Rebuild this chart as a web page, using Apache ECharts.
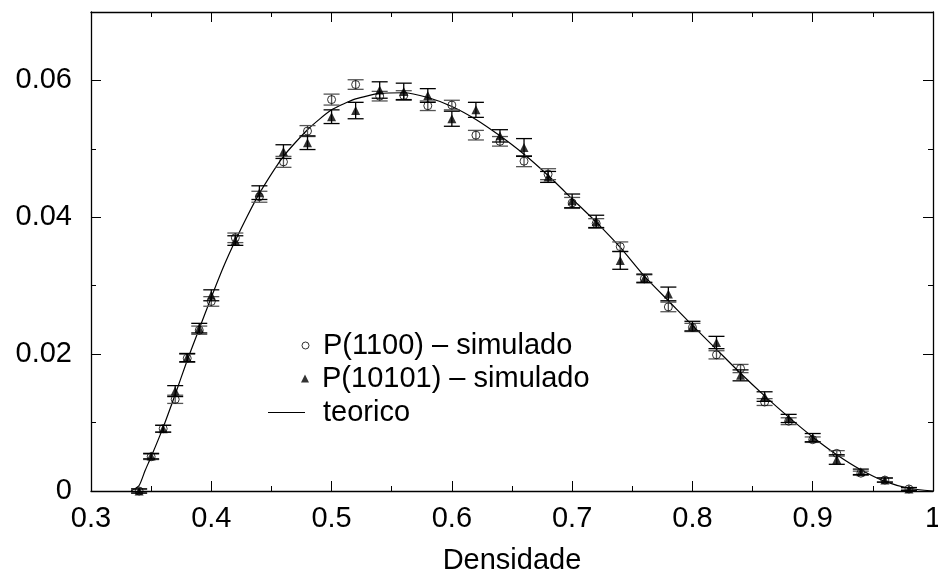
<!DOCTYPE html>
<html>
<head>
<meta charset="utf-8">
<script src="https://cdn.jsdelivr.net/npm/echarts@6/dist/echarts.min.js"></script>
<style>
html,body{margin:0;padding:0;background:#fff;}
#chart{width:938px;height:572px;}
</style>
</head>
<body>
<div id="chart"></div>
<script>
// ---- data ----
const densidade = [0.34,0.35,0.36,0.37,0.38,0.39,0.40,0.42,0.44,0.46,0.48,0.50,0.52,0.54,0.56,0.58,0.60,0.62,0.64,0.66,0.68,0.70,0.72,0.74,0.76,0.78,0.80,0.82,0.84,0.86,0.88,0.90,0.92,0.94,0.96,0.98];
const p1100 = [0.0000,0.0050,0.0091,0.0134,0.0194,0.0235,0.0277,0.0370,0.0430,0.0481,0.0526,0.0572,0.0594,0.0577,0.0578,0.0563,0.0564,0.0520,0.0511,0.0482,0.0463,0.0421,0.0391,0.0357,0.0310,0.0269,0.0239,0.0199,0.0179,0.0130,0.0102,0.0075,0.0055,0.0026,0.0016,0.0003];
const p1100Err = [0.0003,0.0004,0.0005,0.0006,0.0006,0.0006,0.0007,0.0007,0.0008,0.0008,0.0008,0.0008,0.0007,0.0007,0.0007,0.0007,0.0007,0.0007,0.0007,0.0008,0.0008,0.0008,0.0007,0.0007,0.0006,0.0007,0.0006,0.0006,0.0006,0.0005,0.0005,0.0004,0.0004,0.0003,0.0003,0.0002];
const p10101 = [0.0000,0.0051,0.0091,0.0146,0.0195,0.0238,0.0286,0.0366,0.0436,0.0496,0.0509,0.0547,0.0556,0.0586,0.0584,0.0578,0.0544,0.0557,0.0519,0.0502,0.0459,0.0424,0.0394,0.0337,0.0311,0.0288,0.0241,0.0217,0.0169,0.0138,0.0106,0.0078,0.0046,0.0028,0.0016,0.0003];
const p10101Err = [0.0003,0.0004,0.0005,0.0008,0.0006,0.0007,0.0008,0.0007,0.0010,0.0010,0.0010,0.0010,0.0012,0.0012,0.0012,0.0010,0.0011,0.0011,0.0009,0.0013,0.0008,0.0010,0.0009,0.0013,0.0006,0.0010,0.0007,0.0009,0.0008,0.0007,0.0006,0.0006,0.0007,0.0004,0.0003,0.0002];
const teoricoX = [0.3333,0.34,0.345,0.35,0.36,0.37,0.38,0.39,0.40,0.41,0.42,0.43,0.44,0.46,0.48,0.50,0.52,0.54,0.56,0.58,0.60,0.62,0.64,0.66,0.68,0.70,0.72,0.74,0.76,0.78,0.80,0.82,0.84,0.86,0.88,0.90,0.92,0.94,0.96,0.98,1.0];
const teoricoY = [0,0.0008,0.0030,0.0050,0.0093,0.0141,0.0191,0.0237,0.0283,0.0327,0.0366,0.0402,0.0435,0.0489,0.0528,0.0557,0.0573,0.0581,0.0582,0.0575,0.0562,0.0543,0.0519,0.0492,0.0461,0.0427,0.0393,0.0356,0.0314,0.0278,0.0242,0.0207,0.0172,0.0139,0.0108,0.0079,0.0053,0.0031,0.0014,0.0004,0];
const xTicks = {min:0.3, max:1.0, step:0.1};
const yTicks = {min:0, max:0.07, step:0.02, minorStep:0.01};
const names = ['P(1100) \u2013 simulado','P(10101) \u2013 simulado','teorico'];
const xName = 'Densidade';

// ---- build ----
const FONT = '"Liberation Sans", Arial, Helvetica, sans-serif';
const chart = echarts.init(document.getElementById('chart'), null, {renderer:'canvas'});

function errData(vals, errs){
  return densidade.map((x,i)=>[x, vals[i]-errs[i], vals[i]+errs[i]]);
}
function errRender(color){
  return function(params, api){
    const x = api.value(0);
    const lo = api.coord([x, api.value(1)]);
    const hi = api.coord([x, api.value(2)]);
    const hw = 8;
    const st = {stroke: color, lineWidth: 1.3};
    return {type:'group', children:[
      {type:'line', shape:{x1:lo[0],y1:lo[1],x2:hi[0],y2:hi[1]}, style:st},
      {type:'line', shape:{x1:lo[0]-hw,y1:lo[1],x2:lo[0]+hw,y2:lo[1]}, style:st},
      {type:'line', shape:{x1:hi[0]-hw,y1:hi[1],x2:hi[0]+hw,y2:hi[1]}, style:st}
    ]};
  };
}

const baseX = {type:'value', min:xTicks.min, max:xTicks.max, interval:xTicks.step, splitLine:{show:false},
  axisLine:{show:true, onZero:false, lineStyle:{color:'#000', width:1.3}},
  axisTick:{show:true, inside:true, length:10, lineStyle:{color:'#000', width:1}},
  minorTick:{show:true, splitNumber:2, length:5, lineStyle:{color:'#000', width:1}}};
const baseYMajor = {type:'value', min:yTicks.min, max:yTicks.max, interval:yTicks.step, splitLine:{show:false},
  axisLine:{show:true, onZero:false, lineStyle:{color:'#000', width:1.3}},
  axisTick:{show:true, inside:true, length:10, lineStyle:{color:'#000', width:1}}};
const baseYMinor = {type:'value', min:yTicks.min, max:yTicks.max, interval:yTicks.minorStep, splitLine:{show:false},
  axisLine:{show:false}, axisLabel:{show:false},
  axisTick:{show:true, inside:true, length:5, lineStyle:{color:'#000', width:1}}};

const legendText = {fontFamily:FONT, fontSize:29, color:'#000'};

const option = {
  animation:false,
  backgroundColor:'#fff',
  grid:{left:91, right:5, top:12, bottom:81, containLabel:false, outerBoundsMode:'none'},
  xAxis:[
    Object.assign({}, baseX, {position:'bottom',
      axisLabel:{show:true, margin:13, fontFamily:FONT, fontSize:29, color:'#000'},
      name:xName, nameLocation:'middle', nameGap:55,
      nameTextStyle:{fontFamily:FONT, fontSize:29, color:'#000'}}),
    Object.assign({}, baseX, {position:'top', axisLabel:{show:false}})
  ],
  yAxis:[
    Object.assign({}, baseYMajor, {position:'left',
      axisLabel:{show:true, margin:19, fontFamily:FONT, fontSize:29, color:'#000',
        formatter:v=> (Math.abs(v-yTicks.max)<1e-9 ? '' : String(+v.toFixed(4)))}}),
    Object.assign({}, baseYMinor, {position:'left'}),
    Object.assign({}, baseYMajor, {position:'right', axisLabel:{show:false}}),
    Object.assign({}, baseYMinor, {position:'right'})
  ],
  legend:[
    {data:[{name:names[0], icon:'circle', itemStyle:{color:'#fff', borderColor:'#000', borderWidth:1}}],
     left:301.5, top:331, padding:0, itemWidth:7, itemHeight:7, selectedMode:false,
     textStyle:Object.assign({padding:[0,0,0,9]}, legendText)},
    {data:[{name:names[1], icon:'triangle', itemStyle:{color:'#000', borderWidth:0}}],
     left:301, top:364, padding:0, itemWidth:8, itemHeight:8, selectedMode:false,
     textStyle:Object.assign({padding:[0,0,0,8]}, legendText)},
    {data:[{name:names[2], icon:'rect', itemStyle:{color:'#000'}}],
     left:268, top:398, padding:0, itemWidth:37, itemHeight:1.2, selectedMode:false,
     textStyle:Object.assign({padding:[0,0,0,13]}, legendText)}
  ],
  series:[
    {type:'line', name:names[2], data:teoricoX.map((x,i)=>[x, teoricoY[i]]),
     showSymbol:false, symbol:'none', smooth:0.2,
     lineStyle:{color:'#000', width:1.2}, itemStyle:{color:'#000'}, z:2},
    {type:'custom', name:'err1100', data:errData(p1100,p1100Err), renderItem:errRender('#555'),
     encode:{x:0, y:[1,2]}, z:3},
    {type:'custom', name:'err10101', data:errData(p10101,p10101Err), renderItem:errRender('#000'),
     encode:{x:0, y:[1,2]}, z:3},
    {type:'scatter', name:names[0], data:densidade.map((x,i)=>[x,p1100[i]]),
     symbol:'circle', symbolSize:8,
     itemStyle:{color:'rgba(0,0,0,0)', borderColor:'#000', borderWidth:1}, z:4},
    {type:'scatter', name:names[1], data:densidade.map((x,i)=>[x,p10101[i]]),
     symbol:'triangle', symbolSize:[9,9],
     itemStyle:{color:'#000'}, z:4}
  ]
};
chart.setOption(option);
</script>
</body>
</html>
